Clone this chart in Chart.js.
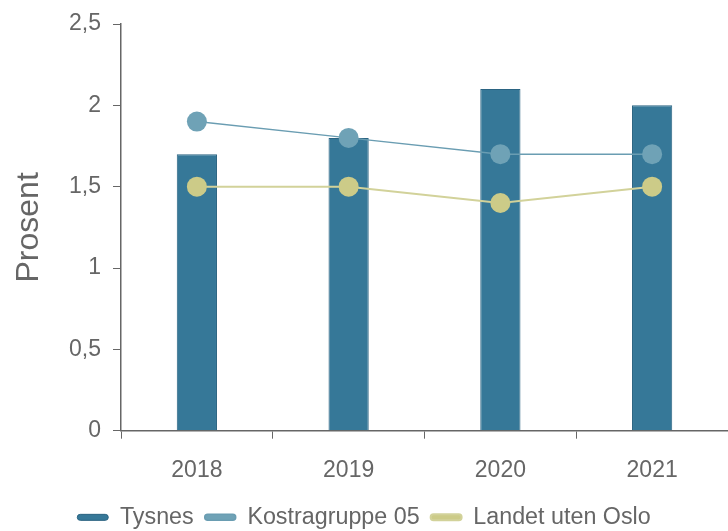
<!DOCTYPE html>
<html>
<head>
<meta charset="utf-8">
<script src="https://cdn.jsdelivr.net/npm/chart.js@4"></script>
<style>
  html, body { margin: 0; padding: 0; background: #fff; }
  #wrap { width: 728px; height: 531px; }
</style>
</head>
<body>
<div id="wrap"><canvas id="grafica" width="728" height="531"></canvas></div>
<script>
const aar = ['2018', '2019', '2020', '2021'];
const tysnes = [1.7, 1.8, 2.1, 2.0];
const kostragruppe = [1.9, 1.8, 1.7, 1.7];
const landetUtenOslo = [1.5, 1.5, 1.4, 1.5];
const yTicks = [0, 0.5, 1, 1.5, 2, 2.5];

const grå = '#666666';
const fontFam = '"Liberation Sans", Arial, sans-serif';

const config = {
  data: {
    labels: aar,
    datasets: [
      {
        type: 'bar',
        label: 'Tysnes',
        data: tysnes,
        backgroundColor: '#367898',
        borderColor: '#2b6482',
        borderWidth: 1,
        barPercentage: 0.265,
        categoryPercentage: 1,
        order: 2
      },
      {
        type: 'line',
        label: 'Kostragruppe 05',
        data: kostragruppe,
        borderColor: '#6a9db2',
        backgroundColor: '#6fa2b6',
        borderWidth: 1.5,
        pointRadius: 10,
        pointHoverRadius: 10,
        pointBorderWidth: 0,
        order: 1
      },
      {
        type: 'line',
        label: 'Landet uten Oslo',
        data: landetUtenOslo,
        borderColor: '#d2d29a',
        backgroundColor: '#cccb88',
        pointBackgroundColor: '#cccb88',
        borderWidth: 2,
        pointRadius: 10,
        pointHoverRadius: 10,
        pointBorderWidth: 0,
        order: 0
      }
    ]
  },
  options: {
    responsive: false,
    animation: false,
    layout: {
      autoPadding: false,
      padding: { top: 24, right: 0, left: 0, bottom: -8 }
    },
    plugins: {
      tooltip: { enabled: false },
      legend: {
        position: 'bottom',
        labels: {
          boxWidth: 31,
          boxHeight: 6,
          padding: 11,
          useBorderRadius: true,
          borderRadius: 3,
          color: grå,
          font: { family: fontFam, size: 23.3 },
          sort: (a, b) => a.datasetIndex - b.datasetIndex
        }
      }
    },
    scales: {
      x: {
        offset: true,
        grid: {
          offset: true,
          drawOnChartArea: false,
          tickLength: 8,
          color: grå
        },
        border: { color: grå, width: 1.5 },
        ticks: {
          color: grå,
          padding: 18,
          font: { family: fontFam, size: 23 }
        },
        afterFit: (s) => {
          s.height = 64;
          s.paddingLeft = 0;
          s.paddingRight = 0;
        }
      },
      y: {
        min: 0,
        max: 2.5,
        afterBuildTicks: (s) => { s.ticks = yTicks.map((v) => ({ value: v })); },
        grid: {
          drawOnChartArea: false,
          tickLength: 8,
          color: grå
        },
        border: { color: grå, width: 1.5 },
        ticks: {
          color: grå,
          padding: 12,
          font: { family: fontFam, size: 23 },
          callback: (v) => String(v).replace('.', ',')
        },
        title: {
          display: true,
          text: 'Prosent',
          color: grå,
          padding: { top: 10, bottom: 0 },
          font: { family: fontFam, size: 32 }
        },
        afterFit: (s) => {
          s.width = 121;
          s.paddingTop = 0;
          s.paddingBottom = 0;
        }
      }
    }
  }
};

new Chart(document.getElementById('grafica'), config);
</script>
</body>
</html>
